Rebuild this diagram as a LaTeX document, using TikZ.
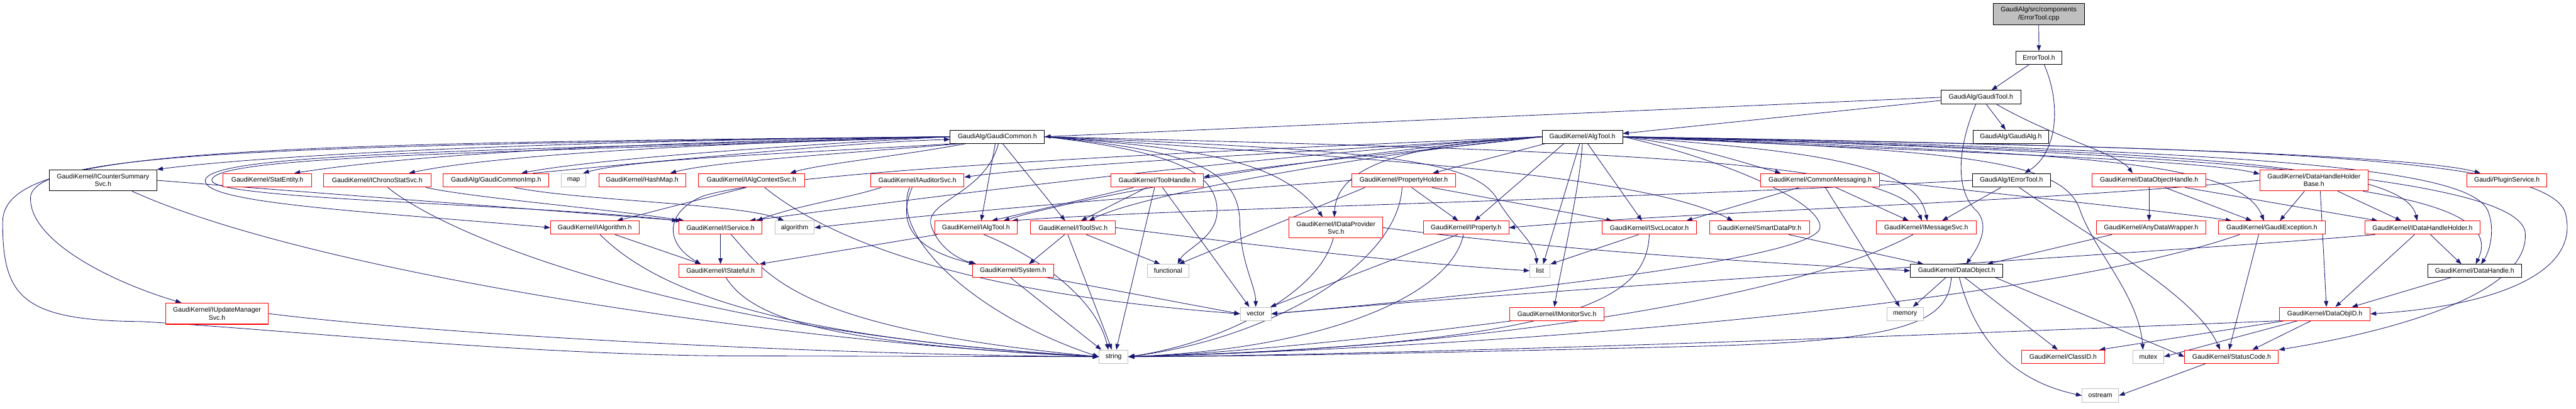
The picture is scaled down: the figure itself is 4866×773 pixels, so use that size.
\documentclass[tikz,border=0pt]{standalone}
\usepackage{fontspec}
\setmainfont{Liberation Sans}
\usetikzlibrary{arrows.meta,calc}
\definecolor{edgec}{RGB}{25,25,112}
\definecolor{redc}{RGB}{255,0,0}
\definecolor{grayc}{RGB}{191,191,191}
\pgfdeclarelayer{bg}
\pgfsetlayers{bg,main}
\tikzset{
  nb/.style={draw, fill=white, rectangle, inner sep=0pt, line width=1.2pt, align=center,
    font=\fontsize{12.5}{14.5}\selectfont, minimum height=25},
  rb/.style={nb, draw=redc},
  gb/.style={nb, draw=grayc},
  kb/.style={nb, draw=black},
  e/.style={draw=edgec, line width=1pt, -{Triangle[length=11pt,width=8pt]}}
}
\begin{document}
\begin{tikzpicture}[x=1pt,y=-1pt]
\useasboundingbox (0,0) rectangle (4866,773);
% nodes
\node[kb, fill=grayc, minimum width=172, minimum height=41] (root) at (3851,26.5) {GaudiAlg/src/components\\/ErrorTool.cpp};
\node[kb, minimum width=87] (eth) at (3851.5,109.5) {ErrorTool.h};
\node[kb, minimum width=150, minimum height=26] (gtool) at (3742,184) {GaudiAlg/GaudiTool.h};
\node[kb, minimum width=178] (gcommon) at (1884,258.5) {GaudiAlg/GaudiCommon.h};
\node[kb, minimum width=152] (algtool) at (2989,258.5) {GaudiKernel/AlgTool.h};
\node[kb, minimum width=143] (galg) at (3798.5,258.5) {GaudiAlg/GaudiAlg.h};
\node[kb, minimum width=203, minimum height=40] (icounter) at (194.5,341) {GaudiKernel/ICounterSummary\\Svc.h};
\node[rb, minimum width=168, minimum height=26] (statentity) at (505,341) {GaudiKernel/StatEntity.h};
\node[rb, minimum width=203, minimum height=26] (ichrono) at (712.5,341) {GaudiKernel/IChronoStatSvc.h};
\node[rb, minimum width=200, minimum height=26] (gcimp) at (937,341) {GaudiAlg/GaudiCommonImp.h};
\node[gb, minimum width=47, minimum height=26] (map) at (1083.5,341) {map};
\node[rb, minimum width=164, minimum height=26] (hashmap) at (1213,341) {GaudiKernel/HashMap.h};
\node[rb, minimum width=201, minimum height=26] (ialgctx) at (1419.5,341) {GaudiKernel/IAlgContextSvc.h};
\node[rb, minimum width=176, minimum height=26] (iauditor) at (1733,341) {GaudiKernel/IAuditorSvc.h};
\node[rb, minimum width=174, minimum height=26] (toolhandle) at (2186,341) {GaudiKernel/ToolHandle.h};
\node[rb, minimum width=195, minimum height=26] (propholder) at (2651.5,341) {GaudiKernel/PropertyHolder.h};
\node[rb, minimum width=224, minimum height=26] (commonmsg) at (3438,341) {GaudiKernel/CommonMessaging.h};
\node[kb, minimum width=147, minimum height=26] (ierrortool) at (3799.5,341) {GaudiAlg/IErrorTool.h};
\node[rb, minimum width=215, minimum height=26] (dohandle) at (4059.5,341) {GaudiKernel/DataObjectHandle.h};
\node[rb, minimum width=204, minimum height=40] (dhhbase) at (4371,341) {GaudiKernel/DataHandleHolder\\Base.h};
\node[rb, minimum width=151, minimum height=26] (plugin) at (4735.5,341) {Gaudi/PluginService.h};
\node[rb, minimum width=167] (ialgorithm) at (1123.5,430.5) {GaudiKernel/IAlgorithm.h};
\node[rb, minimum width=156] (iservice) at (1361,430.5) {GaudiKernel/IService.h};
\node[gb, minimum width=74] (algorithm) at (1501,430.5) {algorithm};
\node[rb, minimum width=155] (ialgtool) at (1843.5,430.5) {GaudiKernel/IAlgTool.h};
\node[rb, minimum width=160] (itoolsvc) at (2027,430.5) {GaudiKernel/IToolSvc.h};
\node[rb, minimum width=177, minimum height=39] (idataprov) at (2523.5,430.5) {GaudiKernel/IDataProvider\\Svc.h};
\node[rb, minimum width=161] (iproperty) at (2769.5,430.5) {GaudiKernel/IProperty.h};
\node[rb, minimum width=179] (isvcloc) at (3115.5,430.5) {GaudiKernel/ISvcLocator.h};
\node[rb, minimum width=189] (smartdp) at (3323.5,430.5) {GaudiKernel/SmartDataPtr.h};
\node[rb, minimum width=189] (imsgsvc) at (3638.5,430.5) {GaudiKernel/IMessageSvc.h};
\node[rb, minimum width=207] (anydw) at (4063.5,430.5) {GaudiKernel/AnyDataWrapper.h};
\node[rb, minimum width=201] (gexc) at (4291.5,430.5) {GaudiKernel/GaudiException.h};
\node[rb, minimum width=218] (idhh) at (4576,430.5) {GaudiKernel/IDataHandleHolder.h};
\node[rb, minimum width=156, minimum height=24] (istateful) at (1361,512) {GaudiKernel/IStateful.h};
\node[rb, minimum width=153, minimum height=24] (system) at (1913.5,512) {GaudiKernel/System.h};
\node[gb, minimum width=79, minimum height=24] (functional) at (2206.5,512) {functional};
\node[gb, minimum width=38, minimum height=24] (list) at (2909,512) {list};
\node[kb, minimum width=174, minimum height=24] (dataobject) at (3696,512) {GaudiKernel/DataObject.h};
\node[kb, minimum width=177, minimum height=24] (datahandle) at (4674.5,512) {GaudiKernel/DataHandle.h};
\node[rb, minimum width=194, minimum height=40] (iupdate) at (410,593) {GaudiKernel/IUpdateManager\\Svc.h};
\node[gb, minimum width=58] (vector) at (2372,593.5) {vector};
\node[rb, minimum width=178] (imonitor) at (2941,593.5) {GaudiKernel/IMonitorSvc.h};
\node[gb, minimum width=69] (memory) at (3598.5,593.5) {memory};
\node[rb, minimum width=171] (dataobjid) at (4391.5,593.5) {GaudiKernel/DataObjID.h};
\node[gb, minimum width=55] (string) at (2103.5,674.5) {string};
\node[rb, minimum width=156] (classid) at (3897,674.5) {GaudiKernel/ClassID.h};
\node[gb, minimum width=58] (mutex) at (4058,674.5) {mutex};
\node[rb, minimum width=177] (statuscode) at (4215.5,674.5) {GaudiKernel/StatusCode.h};
\node[gb, minimum width=69, minimum height=26] (ostream) at (3967.5,748) {ostream};
\begin{pgfonlayer}{bg}
\fill[white] (0,0) rectangle (4866,773);
% top chain
\draw[e] (root) -- (eth);
\draw[e] (eth) -- (gtool);
\draw[e] ($(eth.south)+(10,0)$) .. controls (3895,200) and (3885,290) .. ($(ierrortool.north)+(25,0)$);
\draw[e] (gtool) -- (galg);
\draw[e] (gtool.west) -- (gcommon.east);
\draw[e] ($(gtool.west)+(0,6)$) -- ($(algtool.east)+(0,-6)$);
\draw[e] ($(gtool.south)+(30,0)$) .. controls (3880,260) and (4000,290) .. ($(dohandle.north)+(-31,0)$);
\draw[e] ($(gtool.south)+(-10,0)$) .. controls (3690,300) and (3700,370) .. (3735,400) .. controls (3760,430) and (3735,470) .. ($(dataobject.north)+(18,0)$);
% GaudiCommon
\draw[e] (gcommon.west) .. controls (900,268) and (450,300) .. (icounter.north east);
\draw[e] (gcommon.west) .. controls (1000,272) and (700,305) .. ($(statentity.north)+(51,0)$);
\draw[e] (gcommon.west) .. controls (1200,275) and (900,300) .. ($(ichrono.north)+(60,0)$);
\draw[e] (gcommon.west) .. controls (1400,280) and (1100,305) .. ($(gcimp.north)+(48,0)$);
\draw[e] ($(gcommon.south west)+(10,0)$) .. controls (1500,290) and (1200,300) .. ($(map.north)+(18,0)$);
\draw[e] ($(gcommon.south west)+(20,0)$) .. controls (1600,290) and (1350,305) .. ($(hashmap.north)+(53,0)$);
\draw[e] ($(gcommon.south west)+(30,0)$) .. controls (1700,295) and (1550,310) .. ($(ialgctx.north)+(73,0)$);
\draw[e] (gcommon.west) .. controls (500,275) and (75,290) .. (58,370) .. controls (50,450) and (200,530) .. (iupdate.163);
\draw[e] (gcommon.west) .. controls (400,272) and (5,285) .. (5,420) .. controls (5,560) and (40,606) .. (265,608) .. controls (500,620) and (1000,673) .. (1400,673) -- (string.west);
\draw[e] (gcommon.west) .. controls (900,285) and (400,290) .. (388,340) .. controls (378,385) and (700,400) .. (ialgorithm.west);
\draw[e] (gcommon.west) .. controls (900,290) and (410,295) .. (400,340) .. controls (392,378) and (1000,385) .. ($(iservice.north west)+(-2,0)$);
\draw[e] ($(gcommon.south)+(-4,0)$) -- ($(ialgtool.north)+(10,0)$);
\draw[e] ($(gcommon.south)+(10,0)$) -- ($(itoolsvc.north)+(-15,0)$);
\draw[e] ($(gcommon.south)+(2,0)$) .. controls (1860,370) and (1740,380) .. (1760,430) .. controls (1775,470) and (1810,490) .. ($(system.north west)+(8,0)$);
\draw[e] (gcommon.east) .. controls (2200,285) and (2300,320) .. (2299,400) .. controls (2298,450) and (2240,470) .. ($(functional.north)+(18,0)$);
\draw[e] (gcommon.east) .. controls (2250,285) and (2340,320) .. (2342,420) .. controls (2344,500) and (2372,540) .. (vector.north);
\draw[e] (gcommon.east) .. controls (2250,280) and (2420,300) .. ($(idataprov.north)+(-25,0)$);
\draw[e] (gcommon.east) .. controls (2600,300) and (3100,330) .. ($(smartdp.north)+(-50,0)$);
\draw[e] (gcommon.east) .. controls (2600,285) and (2790,300) .. (2830,380) .. controls (2860,430) and (2900,460) .. ($(list.north)+(-6,0)$);
\draw[e] (gcommon.east) .. controls (3000,285) and (3580,300) .. ($(imsgsvc.north)+(-8,0)$);
% GaudiCommonImp
\draw[e] ($(gcimp.north)+(70,0)$) .. controls (1300,300) and (1600,270) .. ($(gcommon.west)+(0,5)$);
\draw[e] ($(gcimp.south)+(35,0)$) .. controls (1100,380) and (1400,385) .. ($(algorithm.north)+(-20,0)$);
% AlgTool
\draw[e] (algtool.west) .. controls (2600,280) and (2000,310) .. ($(iauditor.east)+(0,-6)$);
\draw[e] (algtool.west) .. controls (2700,285) and (2400,310) .. ($(toolhandle.east)+(0,-6)$);
\draw[e] ($(algtool.south)+(-70,0)$) -- ($(propholder.north)+(55,0)$);
\draw[e] (algtool.east) .. controls (3200,275) and (3300,310) .. ($(commonmsg.north)+(-74,0)$);
\draw[e] (algtool.east) .. controls (3600,285) and (4150,300) .. ($(dhhbase.west)+(0,-12)$);
\draw[e] (algtool.east) .. controls (3800,270) and (4550,290) .. ($(plugin.north)+(-50,0)$);
\draw[e] (algtool.west) .. controls (2500,290) and (2050,370) .. ($(ialgtool.north)+(52,0)$);
\draw[e] (algtool.west) .. controls (2550,295) and (2150,370) .. ($(itoolsvc.north)+(30,0)$);
\draw[e] (algtool.west) .. controls (2300,300) and (1700,380) .. ($(iservice.north)+(55,0)$);
\draw[e] (algtool.west) .. controls (2300,285) and (1500,320) .. (1330,370) .. controls (1255,400) and (1255,460) .. ($(istateful.north)+(-37,0)$);
\draw[e] ($(algtool.south)+(-35,0)$) -- ($(iproperty.north)+(16,0)$);
\draw[e] ($(algtool.south)+(10,0)$) -- ($(isvcloc.north)+(-14,0)$);
\draw[e] (algtool.south) .. controls (2985,350) and (2950,500) .. ($(imonitor.north)+(-5,0)$);
\draw[e] ($(algtool.south)+(-5,0)$) -- ($(list.north)+(6,0)$);
\draw[e] (algtool.west) .. controls (2700,272) and (2525,300) .. ($(idataprov.north)+(-3,0)$);
\draw[e] (algtool.east) .. controls (3400,285) and (3620,305) .. ($(imsgsvc.north)+(2,0)$);
\draw[e] (algtool.east) .. controls (3900,290) and (4230,300) .. ($(gexc.north)+(-15,0)$);
\draw[e] (algtool.east) .. controls (4000,285) and (4540,300) .. ($(idhh.north)+(-10,0)$);
\draw[e] (algtool.east) .. controls (4300,285) and (4670,320) .. (4700,400) .. controls (4715,440) and (4700,480) .. ($(datahandle.north)+(12,0)$);
\draw[e] (algtool.east) .. controls (4200,280) and (4800,290) .. (4845,400) .. controls (4880,520) and (4700,580) .. (dataobjid.east);
\draw[e] (algtool.east) .. controls (4300,290) and (4760,350) .. (4770,440) .. controls (4780,560) and (4500,630) .. (statuscode.north east);
\draw[e] (algtool.east) .. controls (3700,285) and (3900,300) .. (3930,400) .. controls (3960,480) and (4040,560) .. ($(mutex.north)+(-10,0)$);
\draw[e] (algtool.east) .. controls (3250,300) and (3440,380) .. (3438,430) .. controls (3435,480) and (3000,540) .. (vector.east);
% other headers
\draw[e] (icounter.east) .. controls (600,365) and (1000,395) .. ($(iservice.north west)+(5,0)$);
\draw[e] ($(icounter.south)+(55,0)$) .. controls (600,520) and (1500,650) .. (string.west);
\draw[e] ($(ichrono.south east)+(-10,0)$) .. controls (900,375) and (1150,395) .. ($(iservice.north west)+(10,0)$);
\draw[e] ($(ichrono.south)+(20,0)$) .. controls (850,450) and (1300,630) .. (string.west);
\draw[e] (iupdate.east) .. controls (800,630) and (1500,670) .. (string.west);
\draw[e] ($(ialgctx.south)+(-10,0)$) -- ($(ialgorithm.north)+(42,0)$);
\draw[e] ($(ialgctx.south)+(25,0)$) .. controls (1600,480) and (1900,560) .. (vector.west);
\draw[e] (ialgorithm) -- (istateful);
\draw[e] ($(ialgorithm.south)+(10,0)$) .. controls (1250,560) and (1500,640) .. (string.west);
\draw[e] (iservice) -- (istateful);
\draw[e] ($(iservice.south)+(20,0)$) .. controls (1450,520) and (1500,620) .. (string.west);
\draw[e] ($(istateful.south)+(10,0)$) .. controls (1420,600) and (1550,650) .. (string.west);
\draw[e] ($(iauditor.south west)+(20,0)$) .. controls (1600,375) and (1500,390) .. ($(iservice.north east)+(-10,0)$);
\draw[e] ($(iauditor.south)+(-10,0)$) .. controls (1695,420) and (1720,470) .. ($(system.north west)+(5,0)$);
\draw[e] ($(iauditor.south)+(-15,0)$) .. controls (1680,450) and (1850,600) .. (string.west);
\draw[e] ($(toolhandle.south)+(-45,0)$) -- ($(ialgtool.north)+(30,0)$);
\draw[e] ($(toolhandle.south)+(-20,0)$) -- ($(itoolsvc.north)+(15,0)$);
\draw[e] ($(toolhandle.south)+(-5,0)$) -- ($(string.north)+(5,0)$);
\draw[e] ($(toolhandle.south)+(10,0)$) -- ($(vector.north)+(-12,0)$);
\draw[e] ($(ialgtool.south west)+(5,0)$) -- ($(istateful.north east)+(-5,0)$);
\draw[e] ($(ialgtool.south)+(15,0)$) .. controls (1950,480) and (2070,560) .. ($(string.north)+(-10,0)$);
\draw[e] (itoolsvc) -- ($(system.north)+(30,0)$);
\draw[e] ($(itoolsvc.south)+(-10,0)$) -- ($(string.north)+(-3,0)$);
\draw[e] ($(itoolsvc.south)+(25,0)$) -- ($(functional.north)+(-15,0)$);
\draw[e] (itoolsvc.east) .. controls (2500,480) and (2700,500) .. (list.west);
\draw[e] ($(system.south)+(-5,0)$) -- ($(string.north west)+(5,0)$);
\draw[e] ($(system.south east)+(-15,0)$) -- (vector.west);
\draw[e] (propholder.west) .. controls (2300,360) and (1800,400) .. (algorithm.east);
\draw[e] ($(propholder.south west)+(25,0)$) -- ($(functional.north)+(20,0)$);
\draw[e] ($(propholder.south)+(-3,0)$) .. controls (2640,500) and (2400,640) .. (string.east);
\draw[e] ($(propholder.south)+(15,0)$) -- ($(iproperty.north)+(-15,0)$);
\draw[e] ($(propholder.south east)+(-45,0)$) -- ($(isvcloc.north west)+(20,0)$);
\draw[e] ($(idataprov.south)+(-5,0)$) .. controls (2490,560) and (2300,650) .. (string.east);
\draw[e] (idataprov.east) .. controls (3000,480) and (3400,500) .. (dataobject.west);
\draw[e] ($(iproperty.south west)+(65,0)$) -- ($(vector.north east)+(-2,0)$);
\draw[e] ($(iproperty.south)+(-5,0)$) .. controls (2740,560) and (2500,660) .. (string.east);
\draw[e] ($(isvcloc.south west)+(70,0)$) -- (list.north east);
\draw[e] (isvcloc.south) .. controls (3110,560) and (3000,650) .. (string.east);
\draw[e] ($(imonitor.south west)+(5,0)$) .. controls (2600,640) and (2300,670) .. (string.east);
\draw[e] ($(commonmsg.south)+(-40,0)$) -- ($(isvcloc.north east)+(-20,0)$);
\draw[e] ($(commonmsg.south)+(30,0)$) -- ($(imsgsvc.north)+(-33,0)$);
\draw[e] ($(commonmsg.south)+(10,0)$) -- ($(memory.north)+(-10,0)$);
\draw[e] (commonmsg.east) .. controls (3800,370) and (4100,400) .. ($(gexc.north west)+(25,0)$);
\draw[e] ($(smartdp.south east)+(-40,0)$) -- ($(dataobject.north west)+(25,0)$);
\draw[e] ($(imsgsvc.south)+(-25,0)$) .. controls (3400,560) and (2800,660) .. (string.east);
\draw[e] ($(ierrortool.south)+(-20,0)$) -- ($(imsgsvc.north)+(30,0)$);
\draw[e] ($(ierrortool.south)+(15,0)$) .. controls (3950,450) and (4150,560) .. ($(statuscode.north)+(-22,0)$);
\draw[e] (ierrortool.west) .. controls (3000,380) and (2200,395) .. ($(ialgtool.north east)+(-10,0)$);
\draw[e] ($(anydw.south west)+(30,0)$) -- ($(dataobject.north east)+(-30,0)$);
\draw[e] (dohandle.south) -- (dohandle.south |- anydw.north);
\draw[e] ($(dohandle.south)+(30,0)$) -- ($(gexc.north)+(-38,0)$);
\draw[e] ($(dohandle.south east)+(-40,0)$) -- ($(idhh.north west)+(25,0)$);
\draw[e] ($(dhhbase.south)+(-18,0)$) -- ($(gexc.north)+(15,0)$);
\draw[e] ($(dhhbase.south)+(45,0)$) -- ($(idhh.north)+(-40,0)$);
\draw[e] ($(dhhbase.south)+(12,0)$) -- ($(dataobjid.north)+(3,0)$);
\draw[e] (dhhbase.west) .. controls (3800,385) and (3200,400) .. (iproperty.east);
\draw[e] ($(dhhbase.south east)+(-10,0)$) .. controls (4640,390) and (4710,430) .. ($(datahandle.north)+(2,0)$);
\draw[e] ($(gexc.south)+(-25,0)$) -- ($(statuscode.north)+(-5,0)$);
\draw[e] ($(gexc.south west)+(40,0)$) .. controls (3900,560) and (3000,650) .. (string.east);
\draw[e] ($(idhh.south)+(15,0)$) -- ($(datahandle.north)+(-25,0)$);
\draw[e] ($(idhh.south)+(-15,0)$) -- ($(dataobjid.north)+(20,0)$);
\draw[e] ($(idhh.south west)+(20,0)$) .. controls (4200,470) and (3000,540) .. (vector.east);
\draw[e] ($(datahandle.south west)+(45,0)$) -- ($(dataobjid.north east)+(-35,0)$);
\draw[e] ($(dataobjid.south west)+(60,0)$) -- ($(statuscode.north east)+(-50,0)$);
\draw[e] ($(dataobjid.south west)+(35,0)$) -- (mutex.east);
\draw[e] ($(dataobjid.south west)+(10,0)$) -- ($(classid.north east)+(-10,0)$);
\draw[e] (dataobjid.south west) .. controls (3500,640) and (2600,672) .. (string.east);
\draw[e] ($(dataobject.south)+(-20,0)$) -- ($(memory.north)+(15,0)$);
\draw[e] ($(dataobject.south)+(15,0)$) -- ($(classid.north)+(-10,0)$);
\draw[e] ($(dataobject.south)+(5,0)$) .. controls (3730,640) and (3800,720) .. (ostream.west);
\draw[e] ($(dataobject.south)+(-10,0)$) .. controls (3680,610) and (3600,645) .. (3200,655) .. controls (2800,665) and (2400,674) .. (string.east);
\draw[e] ($(dataobject.south east)+(-15,0)$) -- (statuscode.west);
\draw[e] ($(statuscode.south west)+(40,0)$) -- (ostream.east);
\end{pgfonlayer}
\end{tikzpicture}
\end{document}
